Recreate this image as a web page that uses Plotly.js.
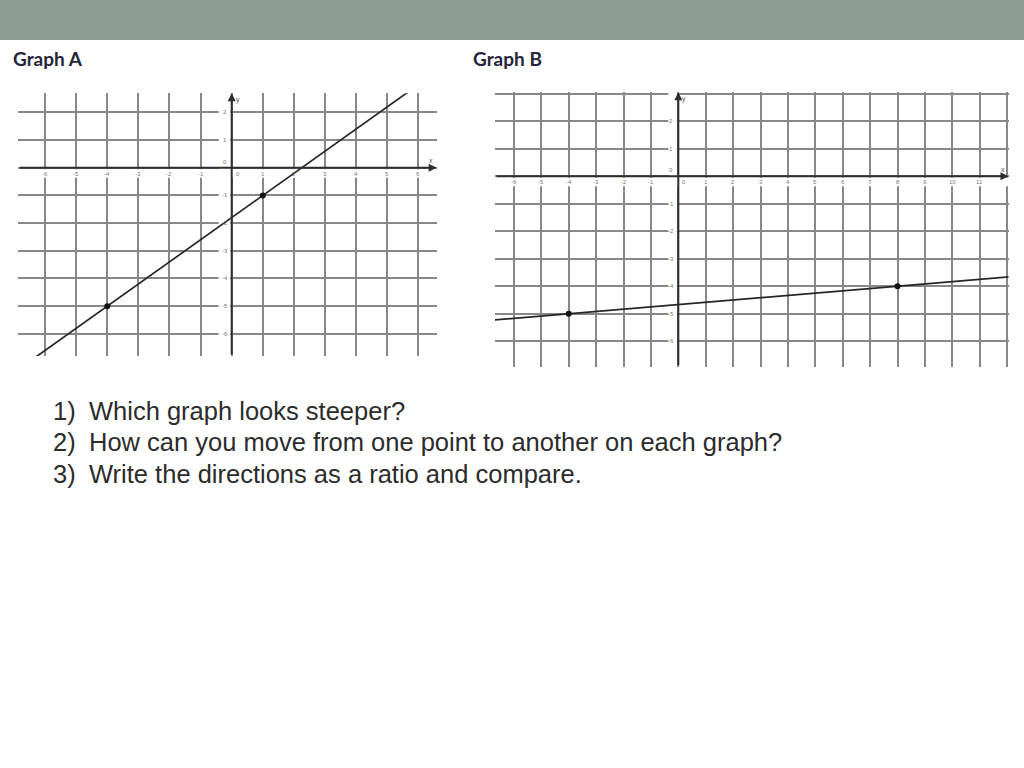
<!DOCTYPE html>
<html>
<head>
<meta charset="utf-8">
<script src="https://cdn.plot.ly/plotly-3.0.1.min.js"></script>
<style>
  html, body { margin: 0; padding: 0; background: #fff; }
  #chart { width: 1024px; height: 768px; }
</style>
</head>
<body>
<div id="chart"></div>
<script>
// Graph A: the two marked points and the grid ticks
const graphAPointsX = [-4, 1];
const graphAPointsY = [-5, -1];
const graphATicksX = [-6, -5, -4, -3, -2, -1, 0, 1, 2, 3, 4, 5, 6];
const graphATicksY = [-6, -5, -4, -3, -2, -1, 0, 1, 2];

// Graph B
const graphBPointsX = [-4, 8];
const graphBPointsY = [-5, -4];
const graphBTicksX = [-6, -5, -4, -3, -2, -1, 0, 1, 2, 3, 4, 5, 6, 7, 8, 9, 10, 11, 12];
const graphBLabelsX = [-6, -5, -4, -3, -2, -1, 0, 1, 2, 3, 4, 5, 6, 7, 8, 9, 10, 11];
const graphBTicksY = [-6, -5, -4, -3, -2, -1, 0, 1, 2, 3];
const graphBLabelsY = [-6, -5, -4, -3, -2, -1, 0, 1, 2];

const graphTitles = ['Graph A', 'Graph B'];
const questionNumbers = ['1)', '2)', '3)'];
const questionTexts = [
    'Which graph looks steeper?',
    'How can you move from one point to another on each graph?',
    'Write the directions as a ratio and compare.'
];

const W = 1024, H = 768;
const px = x => x / W;
const py = y => 1 - y / H;

const GRID = '#888888';
const AXIS = '#2e2e2e';

// each graph: its axes ids, ranges and pixel box on the slide
const graphs = [
    {
        xa: 'x', ya: 'y', px: graphAPointsX, py: graphAPointsY,
        ticksX: graphATicksX, ticksY: graphATicksY,
        labelsX: graphATicksX, labelsY: graphATicksY,
        xr: [-6.86, 6.59], yr: [-6.80, 2.69],
        box: { l: 18.3, r: 436.7, t: 93.3, b: 356 },
        gapY: 13
    },
    {
        xa: 'x2', ya: 'y2', px: graphBPointsX, py: graphBPointsY,
        ticksX: graphBTicksX, ticksY: graphBTicksY,
        labelsX: graphBLabelsX, labelsY: graphBLabelsY,
        xr: [-6.69, 12.05], yr: [-6.93, 3.05],
        box: { l: 495, r: 1008.5, t: 92.3, b: 366.8 },
        gapY: 10
    }
];

const traces = [];
const annotations = [];
const shapes = [{
    type: 'rect', xref: 'paper', yref: 'paper',
    x0: 0, x1: 1, y0: py(40), y1: 1,
    fillcolor: '#8e9d96', line: { width: 0 }, layer: 'below'
}];
const layout = {
    width: W, height: H,
    margin: { l: 0, r: 0, t: 0, b: 0 },
    paper_bgcolor: '#fff', plot_bgcolor: '#fff',
    showlegend: false
};

graphs.forEach((g, i) => {
    const suffix = i === 0 ? '' : '2';
    const axisCommon = {
        showticklabels: false, ticks: '', showgrid: true,
        gridcolor: GRID, gridwidth: 2, zeroline: false, showline: false,
        fixedrange: true
    };
    layout['xaxis' + suffix] = Object.assign({}, axisCommon, {
        domain: [px(g.box.l), px(g.box.r)], range: g.xr,
        tickvals: g.ticksX, anchor: g.ya
    });
    layout['yaxis' + suffix] = Object.assign({}, axisCommon, {
        domain: [py(g.box.b), py(g.box.t)], range: g.yr,
        tickvals: g.ticksY, anchor: g.xa
    });

    // line through the two marked points, running across the whole grid
    const slope = (g.py[1] - g.py[0]) / (g.px[1] - g.px[0]);
    const lx = [g.xr[0] - 1, g.xr[1] + 1];
    traces.push({
        x: lx, y: lx.map(v => g.py[0] + slope * (v - g.px[0])),
        xaxis: g.xa, yaxis: g.ya, mode: 'lines',
        line: { color: '#262626', width: 1.7 }, hoverinfo: 'skip'
    });
    traces.push({
        x: g.px, y: g.py, xaxis: g.xa, yaxis: g.ya, mode: 'markers',
        marker: { color: '#111', size: 6 }, hoverinfo: 'skip'
    });

    // white bands that break the grid where the tick numbers sit
    shapes.push({
        type: 'rect', layer: 'between', xref: g.xa, yref: g.ya,
        x0: g.xr[0], x1: g.xr[1],
        ysizemode: 'pixel', yanchor: 0, y0: -1.5, y1: -10,
        fillcolor: '#fff', line: { width: 0 }
    });
    shapes.push({
        type: 'rect', layer: 'between', xref: g.xa, yref: g.ya,
        xsizemode: 'pixel', xanchor: 0, x0: -g.gapY, x1: -1.5,
        y0: g.yr[0], y1: g.yr[1],
        fillcolor: '#fff', line: { width: 0 }
    });

    // axes with arrow heads
    const arrow = { xref: g.xa, yref: g.ya, axref: g.xa, ayref: g.ya, text: '',
        showarrow: true, arrowhead: 2, arrowsize: 0.8, arrowwidth: 2, arrowcolor: AXIS };
    annotations.push(Object.assign({}, arrow, { x: g.xr[1], y: 0, ax: g.xr[0], ay: 0 }));
    annotations.push(Object.assign({}, arrow, { x: 0, y: g.yr[1], ax: 0, ay: g.yr[0] }));

    const tickFont = { family: 'Liberation Sans', size: 6, color: '#777' };
    g.labelsX.forEach(t => {
        annotations.push({
            xref: g.xa, yref: g.ya, x: t, y: 0, text: String(t), showarrow: false,
            font: tickFont, yshift: -6, xshift: t === 0 ? 6 : 0
        });
    });
    g.labelsY.forEach(t => {
        annotations.push({
            xref: g.xa, yref: g.ya, x: 0, y: t, text: String(t), showarrow: false,
            font: tickFont, xshift: -7, yshift: t === 0 ? 6 : 0
        });
    });
    const nameFont = { family: 'Liberation Sans', size: 7, color: '#555' };
    annotations.push({ xref: g.xa, yref: g.ya, x: g.xr[1], y: 0, text: 'x',
        showarrow: false, font: nameFont, xshift: -6, yshift: 7 });
    annotations.push({ xref: g.xa, yref: g.ya, x: 0, y: g.yr[1], text: 'y',
        showarrow: false, font: nameFont, xshift: 6, yshift: -7 });
});

// slide titles above each graph
[11, 471].forEach((x, i) => {
    annotations.push({
        xref: 'paper', yref: 'paper', x: px(x), y: py(58),
        xanchor: 'left', yanchor: 'middle', showarrow: false,
        text: '<b>' + graphTitles[i] + '</b>',
        font: { family: 'Lato', size: 19, color: '#24243a' }
    });
});

// the three questions
const qY = [411, 442, 474];
questionTexts.forEach((q, i) => {
    const f = { family: 'Liberation Sans', size: 25.5, color: '#2c2c2c' };
    annotations.push({ xref: 'paper', yref: 'paper', x: px(51), y: py(qY[i]),
        xanchor: 'left', yanchor: 'middle', showarrow: false,
        text: questionNumbers[i], font: f });
    annotations.push({ xref: 'paper', yref: 'paper', x: px(87), y: py(qY[i]),
        xanchor: 'left', yanchor: 'middle', showarrow: false,
        text: q, font: f });
});

layout.shapes = shapes;
layout.annotations = annotations;

Plotly.newPlot('chart', traces, layout, { displayModeBar: false, staticPlot: true });
</script>
</body>
</html>
